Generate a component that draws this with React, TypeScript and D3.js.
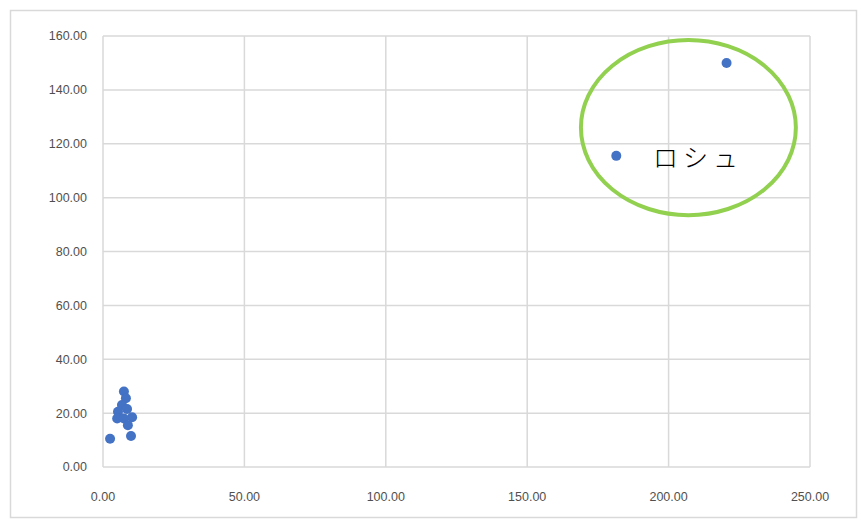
import React from "react";
import * as d3 from "d3";

const xValues = [2.5, 9.9, 10.3, 7.4, 8.1, 6.7, 5.3, 5.0, 7.4, 8.5, 8.8, 181.5, 220.5];
const yValues = [10.5, 11.5, 18.5, 28.0, 25.5, 23.0, 20.5, 18.0, 18.0, 21.5, 15.5, 115.5, 150.0];
const xTicks = [0, 50, 100, 150, 200, 250];
const yTicks = [0, 20, 40, 60, 80, 100, 120, 140, 160];
const annotationLabel = "ロシュ";
const annotationCenter = [207, 126];
const annotationRadius = [38, 32.5];
const annotationLabelPos = [194.5, 111.5];

const W = 862;
const H = 522;

export default function App() {
  const x = d3.scaleLinear().domain([0, 250]).range([103, 810]);
  const y = d3.scaleLinear().domain([0, 160]).range([467, 36]);
  const fmt = d3.format(".2f");
  const grid = "#d9d9d9";
  const tickColor = "#505050";
  const font = "'Liberation Sans', Arial, sans-serif";
  return (
    <svg width={W} height={H} style={{ position: "absolute", left: 0, top: 0, background: "#fff" }}>
      <rect x={10.5} y={10.5} width={846} height={507} fill="#fff" stroke="#d9d9d9" strokeWidth={1.5} />
      {yTicks.map((t) => (
        <line key={"gy" + t} x1={x(0)} x2={x(250)} y1={y(t)} y2={y(t)} stroke={grid} strokeWidth={1.5} />
      ))}
      {xTicks.map((t) => (
        <line key={"gx" + t} x1={x(t)} x2={x(t)} y1={y(0)} y2={y(160)} stroke={grid} strokeWidth={1.5} />
      ))}
      {yTicks.map((t) => (
        <text key={"ty" + t} x={87} y={y(t)} dy="0.35em" textAnchor="end" fontSize={12.5} fill={tickColor} fontFamily={font}>
          {fmt(t)}
        </text>
      ))}
      {xTicks.map((t) => (
        <text key={"tx" + t} x={x(t)} y={497} dy="0.35em" textAnchor="middle" fontSize={12.5} fill={tickColor} fontFamily={font}>
          {fmt(t)}
        </text>
      ))}
      {xValues.map((v, i) => (
        <circle key={"p" + i} cx={x(v)} cy={y(yValues[i])} r={5} fill="#4472c4" />
      ))}
      <ellipse
        cx={x(annotationCenter[0])}
        cy={y(annotationCenter[1])}
        rx={x(annotationRadius[0]) - x(0)}
        ry={y(0) - y(annotationRadius[1])}
        fill="none"
        stroke="#92d050"
        strokeWidth={4}
      />
      <text
        x={x(annotationLabelPos[0])}
        y={y(annotationLabelPos[1])}
        fontSize={25}
        fill="#000"
        fontFamily="'Noto Sans CJK JP', sans-serif"
        fontWeight={300}
        letterSpacing={5}
      >
        {annotationLabel}
      </text>
    </svg>
  );
}
